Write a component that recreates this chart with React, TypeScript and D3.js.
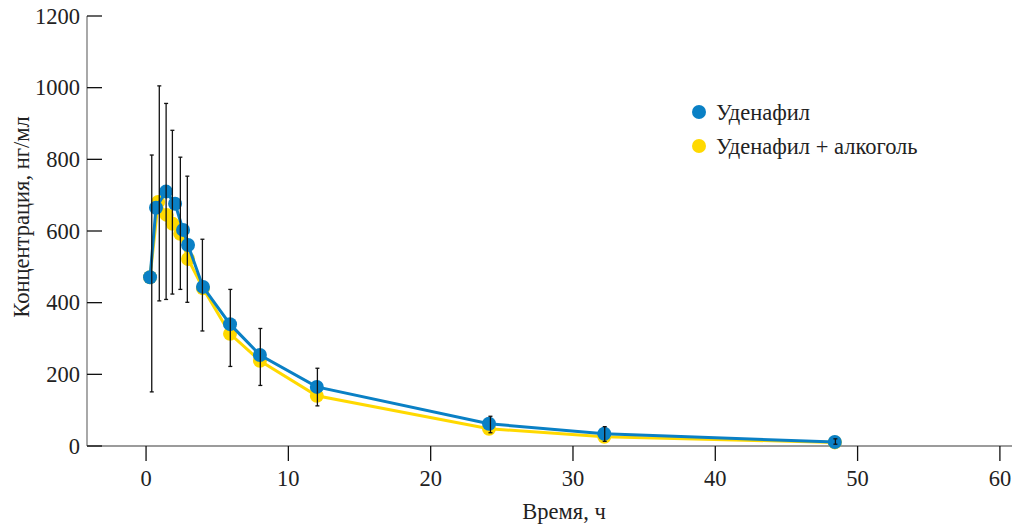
import React from "react";
import * as d3 from "d3";

const blueTime = [0.28, 0.7, 1.4, 2.04, 2.6, 2.95, 4.0, 5.9, 8.0, 12.0, 24.1, 32.2, 48.4];
const blueConc = [471, 665, 710, 676, 603, 561, 444, 340, 254, 165, 62, 34, 11];

const yellowTime = [0.28, 0.85, 1.45, 1.87, 2.4, 2.95, 4.0, 5.9, 8.0, 12.0, 24.1, 32.2, 48.4];
const yellowConc = [471, 681, 645, 620, 592, 522, 440, 313, 238, 140, 48, 26, 10];

const errTime = [0.4, 0.93, 1.41, 1.85, 2.41, 2.9, 3.96, 5.92, 8.03, 12.04, 24.2, 32.23, 48.44];
const errHigh = [812, 1005, 956, 881, 806, 753, 577, 437, 328, 217, 83, 54, 20];
const errLow = [151, 405, 409, 424, 437, 401, 321, 222, 169, 112, 37, 13, 5];

const xTicks = [0, 10, 20, 30, 40, 50, 60];
const yTicks = [0, 200, 400, 600, 800, 1000, 1200];

const seriesNames = ["Уденафил", "Уденафил + алкоголь"];
const seriesColors = ["#0a80c5", "#ffd900"];

const FONT = "'Liberation Serif', serif";
const FS = 22.5;

export default function App() {
  const x = d3.scaleLinear().domain([-4.15, 60.85]).range([87, 1012]);
  const y = d3.scaleLinear().domain([0, 1200]).range([446, 16]);

  const blue = blueTime.map((t, i) => [t, blueConc[i]] as [number, number]);
  const yellow = yellowTime.map((t, i) => [t, yellowConc[i]] as [number, number]);
  const line = d3
    .line<[number, number]>()
    .x((d) => x(d[0]))
    .y((d) => y(d[1]));

  const x0 = x.range()[0];
  const x1 = x.range()[1];
  const yb = y(0);
  const yt = y(1200);
  const ts = { fontFamily: FONT };

  return (
    <svg
      width={1026}
      height={524}
      style={{ position: "absolute", left: 0, top: 0, background: "#fff", fontFamily: FONT }}
    >
      <rect width={1026} height={524} fill="#fff" />
      <line x1={x0} x2={x0} y1={yt} y2={yb} stroke="#7a7a7a" strokeWidth={1.3} />
      <line x1={x0} x2={x1} y1={yb} y2={yb} stroke="#7a7a7a" strokeWidth={1.3} />
      {yTicks.map((v) => (
        <g key={"y" + v}>
          <line x1={x0} x2={x0 + 15} y1={y(v)} y2={y(v)} stroke="#111" strokeWidth={1.3} />
          <text x={x0 - 7} y={y(v)} dy="0.34em" textAnchor="end" fontSize={FS} fill="#222" style={ts}>
            {v}
          </text>
        </g>
      ))}
      {xTicks.map((v) => (
        <g key={"x" + v}>
          <line x1={x(v)} x2={x(v)} y1={yb} y2={yb + 15} stroke="#111" strokeWidth={1.3} />
          <text x={x(v)} y={yb + 40} textAnchor="middle" fontSize={FS} fill="#222" style={ts}>
            {v}
          </text>
        </g>
      ))}
      <text x={564} y={519} textAnchor="middle" fontSize={FS} fill="#222" style={ts}>
        Время, ч
      </text>
      <text
        transform={`translate(29,217) rotate(-90)`}
        textAnchor="middle"
        fontSize={FS}
        fill="#222"
        style={ts}
      >
        Концентрация, нг/мл
      </text>

      <path d={line(yellow) || ""} fill="none" stroke={seriesColors[1]} strokeWidth={3} />
      {yellow.map((d, i) => (
        <circle key={"yc" + i} cx={x(d[0])} cy={y(d[1])} r={7} fill={seriesColors[1]} />
      ))}
      <path d={line(blue) || ""} fill="none" stroke={seriesColors[0]} strokeWidth={3} />
      {blue.map((d, i) => (
        <circle key={"bc" + i} cx={x(d[0])} cy={y(d[1])} r={7} fill={seriesColors[0]} />
      ))}

      {errTime.map((t, i) => {
        const cx = x(t);
        return (
          <g key={"e" + i} stroke="#111" strokeWidth={1.3}>
            <line x1={cx} x2={cx} y1={y(errHigh[i])} y2={y(errLow[i])} />
            <line x1={cx - 2} x2={cx + 2} y1={y(errHigh[i])} y2={y(errHigh[i])} />
            <line x1={cx - 2} x2={cx + 2} y1={y(errLow[i])} y2={y(errLow[i])} />
          </g>
        );
      })}

      {seriesNames.map((name, i) => (
        <g key={"l" + i}>
          <circle cx={699} cy={112 + i * 34} r={7} fill={seriesColors[i]} />
          <text x={716} y={112 + i * 34} dy="0.34em" fontSize={FS} fill="#222" style={ts}>
            {name}
          </text>
        </g>
      ))}
    </svg>
  );
}
